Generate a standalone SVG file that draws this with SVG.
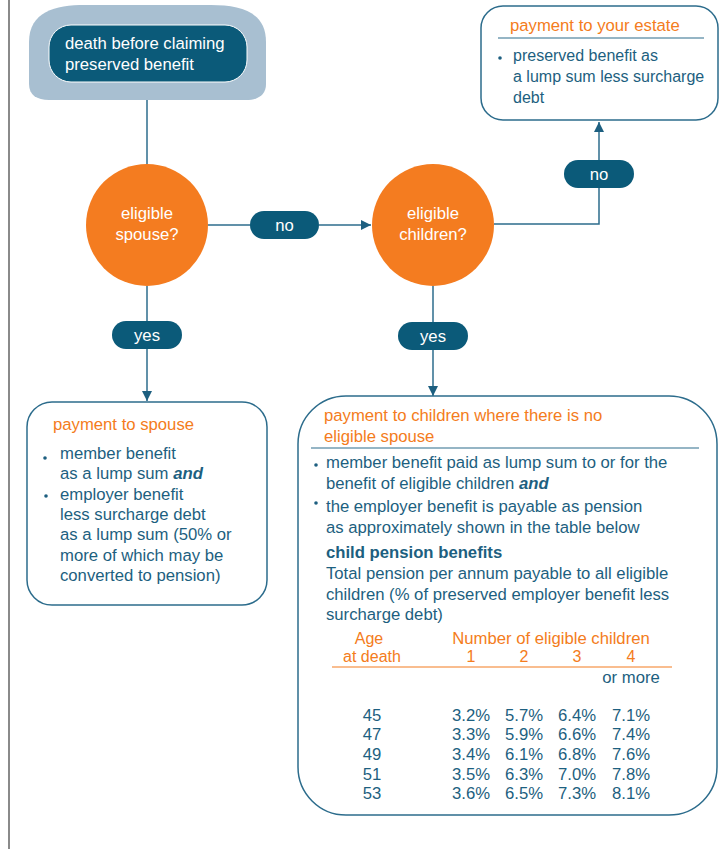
<svg xmlns="http://www.w3.org/2000/svg" width="726" height="849" viewBox="0 0 726 849">
<defs>
<marker id="ah" viewBox="0 0 10 10" refX="10" refY="5" markerWidth="10" markerHeight="10" markerUnits="userSpaceOnUse" orient="auto">
<path d="M0,0 L10,5 L0,10 Z" fill="#1d5f80"/>
</marker>
<style>
text{font-family:"Liberation Sans",Arial,sans-serif;font-size:16.7px;}
.t{fill:#1d5f80;}
.o{fill:#f47c20;}
.w{fill:#ffffff;}
.c{text-anchor:middle;}
.s{font-size:16px;}
.box{fill:#ffffff;stroke:#2c6c8c;stroke-width:1.5;}
.pill{fill:#0b5a79;}
.circ{fill:#f47c20;}
.ln{fill:none;stroke:#2c6c8c;stroke-width:1.5;}
.bul{fill:#1d5f80;}
</style>
</defs>
<rect width="726" height="849" fill="#ffffff"/>
<line x1="9" y1="0" x2="9" y2="849" stroke="#8a8a8a" stroke-width="2"/>

<g id="connectors">
<line class="ln" x1="147" y1="100" x2="147" y2="164"/>
<line class="ln" x1="208" y1="225" x2="250" y2="225"/>
<line class="ln" x1="319" y1="225" x2="371" y2="225" marker-end="url(#ah)"/>
<line class="ln" x1="147" y1="286" x2="147" y2="321"/>
<line class="ln" x1="147" y1="349" x2="147" y2="401" marker-end="url(#ah)"/>
<line class="ln" x1="433" y1="286" x2="433" y2="322"/>
<line class="ln" x1="433" y1="350" x2="433" y2="396" marker-end="url(#ah)"/>
<polyline class="ln" points="494,224 599,224 599,188"/>
<line class="ln" x1="599" y1="160" x2="599" y2="122" marker-end="url(#ah)"/>
<g id="lbl-no1"><rect class="pill" x="250" y="211" width="69" height="28" rx="14"/><text class="w c" x="284.5" y="231">no</text></g>
<g id="lbl-no2"><rect class="pill" x="564" y="160" width="70" height="28" rx="14"/><text class="w c" x="599" y="180">no</text></g>
<g id="lbl-yes1"><rect class="pill" x="112" y="321" width="70" height="28" rx="14"/><text class="w c" x="147" y="341">yes</text></g>
<g id="lbl-yes2"><rect class="pill" x="398" y="322" width="70" height="28" rx="14"/><text class="w c" x="433" y="342">yes</text></g>
</g>

<g id="start">
<path d="M29,42 C29,12 55,5 85,5 L211,5 C241,5 266,12 266,42 L266,84 C266,95 258,100 246,100 L49,100 C37,100 29,95 29,84 Z" fill="#a8bfd1"/>
<rect x="49" y="25" width="198" height="57" rx="22" fill="#0b5a79" stroke="#ffffff" stroke-width="1"/>
<text class="w" x="65" y="49">death before claiming</text>
<text class="w" x="65" y="70">preserved benefit</text>
</g>

<g id="q-spouse">
<circle class="circ" cx="147" cy="225" r="61"/>
<text class="w c" x="147" y="219">eligible</text>
<text class="w c" x="147" y="240">spouse?</text>
</g>

<g id="q-children">
<circle class="circ" cx="433" cy="225" r="61"/>
<text class="w c" x="433" y="219">eligible</text>
<text class="w c" x="433" y="240">children?</text>
</g>

<g id="estate">
<rect class="box" x="481" y="6" width="237" height="114" rx="22"/>
<text class="o" x="510" y="31">payment to your estate</text>
<line x1="498" y1="38" x2="704" y2="38" stroke="#2c6c8c" stroke-width="1.2"/>
<circle class="bul" cx="500" cy="58" r="1.8"/>
<text class="t s" x="513" y="61">preserved benefit as</text>
<text class="t s" x="513" y="82">a lump sum less surcharge</text>
<text class="t s" x="513" y="103">debt</text>
</g>

<g id="spouse">
<rect class="box" x="27" y="402" width="240" height="203" rx="25"/>
<text class="o" x="53" y="430">payment to spouse</text>
<circle class="bul" cx="45" cy="458" r="1.8"/>
<text class="t" x="60" y="459">member benefit</text>
<text class="t" x="60" y="479">as a lump sum <tspan font-weight="bold" font-style="italic">and</tspan></text>
<circle class="bul" cx="46" cy="496" r="1.8"/>
<text class="t" x="60" y="500">employer benefit</text>
<text class="t" x="60" y="520">less surcharge debt</text>
<text class="t" x="60" y="540">as a lump sum (50% or</text>
<text class="t" x="60" y="561">more of which may be</text>
<text class="t" x="60" y="581">converted to pension)</text>
</g>

<g id="children">
<rect class="box" x="298" y="396" width="419" height="419" rx="48"/>
<text class="o" x="324" y="421">payment to children where there is no</text>
<text class="o" x="324" y="442">eligible spouse</text>
<line x1="311" y1="448" x2="699" y2="448" stroke="#2c6c8c" stroke-width="1.2"/>
<circle class="bul" cx="316" cy="465" r="1.8"/>
<text class="t" x="326" y="468">member benefit paid as lump sum to or for the</text>
<text class="t" x="326" y="489">benefit of eligible children <tspan font-weight="bold" font-style="italic">and</tspan></text>
<circle class="bul" cx="316" cy="503" r="1.8"/>
<text class="t" x="326" y="512">the employer benefit is payable as pension</text>
<text class="t" x="326" y="533">as approximately shown in the table below</text>
<text class="t" x="326" y="558" font-weight="bold">child pension benefits</text>
<text class="t" x="326" y="579">Total pension per annum payable to all eligible</text>
<text class="t" x="326" y="600">children (% of preserved employer benefit less</text>
<text class="t" x="326" y="620">surcharge debt)</text>
<text class="o c s" x="369" y="644">Age</text>
<text class="o c s" x="372" y="662">at death</text>
<text class="o c" x="551" y="644">Number of eligible children</text>
<text class="o c s" x="471" y="662">1</text>
<text class="o c s" x="524" y="662">2</text>
<text class="o c s" x="577" y="662">3</text>
<text class="o c s" x="631" y="662">4</text>
<line x1="332" y1="667" x2="672" y2="667" stroke="#f47c20" stroke-width="1.2"/>
<text class="t c" x="631" y="683">or more</text>
<g class="t">
<text class="t c" x="372" y="721">45</text><text class="t c" x="471" y="721">3.2%</text><text class="t c" x="524" y="721">5.7%</text><text class="t c" x="577" y="721">6.4%</text><text class="t c" x="631" y="721">7.1%</text>
<text class="t c" x="372" y="740">47</text><text class="t c" x="471" y="740">3.3%</text><text class="t c" x="524" y="740">5.9%</text><text class="t c" x="577" y="740">6.6%</text><text class="t c" x="631" y="740">7.4%</text>
<text class="t c" x="372" y="760">49</text><text class="t c" x="471" y="760">3.4%</text><text class="t c" x="524" y="760">6.1%</text><text class="t c" x="577" y="760">6.8%</text><text class="t c" x="631" y="760">7.6%</text>
<text class="t c" x="372" y="780">51</text><text class="t c" x="471" y="780">3.5%</text><text class="t c" x="524" y="780">6.3%</text><text class="t c" x="577" y="780">7.0%</text><text class="t c" x="631" y="780">7.8%</text>
<text class="t c" x="372" y="799">53</text><text class="t c" x="471" y="799">3.6%</text><text class="t c" x="524" y="799">6.5%</text><text class="t c" x="577" y="799">7.3%</text><text class="t c" x="631" y="799">8.1%</text>
</g>
</g>
</svg>
